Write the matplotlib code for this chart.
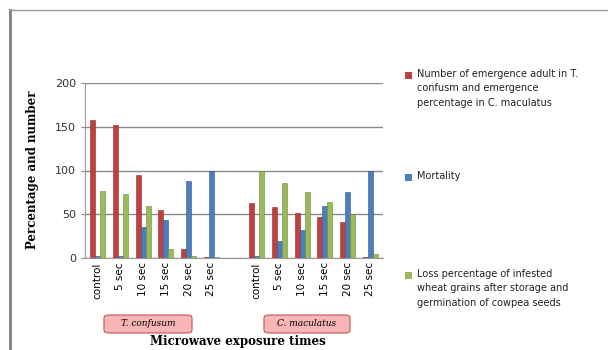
import numpy as np
import matplotlib.pyplot as plt
from matplotlib.patches import FancyBboxPatch, Rectangle

times = ["control", "5 sec", "10 sec", "15 sec", "20 sec", "25 sec"]
groups = ["T. confusum", "C. maculatus"]

# T. confusum
emerg_tc = [158, 152, 95, 55, 10, 1]
mort_tc = [2, 2, 36, 44, 88, 100]
loss_tc = [77, 73, 60, 10, 2, 1]
# C. maculatus
emerg_cm = [63, 58, 52, 47, 41, 1]
mort_cm = [2, 20, 32, 59, 76, 99]
loss_cm = [99, 86, 76, 64, 50, 5]

labels = [
    "Number of emergence adult in T.\nconfusm and emergence\npercentage in C. maculatus",
    "Mortality",
    "Loss percentage of infested\nwheat grains after storage and\ngermination of cowpea seeds",
]
colors = ["#c0403f", "#4a7ebf", "#9aba59"]
edges = ["#8c2b2a", "#2f5a8f", "#6f8a3a"]

fig = plt.figure(figsize=(6.08, 3.5), dpi=100)
W, H = 608, 350
ax = fig.add_axes([85 / W, 1 - 258 / H, 298 / W, 175 / H])

x1 = np.arange(6)
x2 = np.arange(6) + 7
xs = np.concatenate([x1, x2])
series = [emerg_tc + emerg_cm, mort_tc + mort_cm, loss_tc + loss_cm]
bw = 0.22
for i, vals in enumerate(series):
    ax.bar(xs + (i - 1) * bw, vals, width=bw, color=colors[i],
           edgecolor=edges[i], linewidth=0.4, zorder=3)

ax.set_xlim(-0.55, 12.55)
ax.set_ylim(0, 200)
ax.set_yticks([0, 50, 100, 150, 200])
ax.yaxis.grid(True, color="#8a8a8a", linewidth=1.0, zorder=0)
ax.set_xticks(xs)
ax.set_xticklabels(times * 2, rotation=90, fontsize=7.5, family="DejaVu Sans")
ax.tick_params(axis="x", length=0, pad=3)
ax.tick_params(axis="y", labelsize=8, colors="#333333", length=3, color="#888888")
for s in ["top", "right"]:
    ax.spines[s].set_visible(False)
ax.spines["left"].set_color("#999999")
ax.spines["bottom"].set_color("#999999")

fig.text(33 / W, 1 - 170 / H, "Percentage and number", rotation=90,
         ha="center", va="center", fontsize=8.5, fontweight="bold", family="DejaVu Serif")
fig.text(238 / W, 1 - 342 / H, "Microwave exposure times",
         ha="center", va="center", fontsize=8.5, fontweight="bold", family="DejaVu Serif")

# group label boxes
for (xl, xr), name in zip([(104, 192), (264, 350)], groups):
    box = FancyBboxPatch((xl / W, 1 - 333 / H), (xr - xl) / W, 18 / H,
                         boxstyle="round,pad=0,rounding_size=0.008",
                         transform=fig.transFigure, facecolor="#f7b5b5",
                         edgecolor="#d05050", linewidth=0.8)
    fig.patches.append(box)
    fig.text((xl + xr) / 2 / W, 1 - 324 / H, name, ha="center", va="center",
             fontsize=6.5, style="italic", family="DejaVu Serif")

# legend
for ytop, lab, c in zip([75, 177, 275], labels, colors):
    fig.patches.append(Rectangle((405 / W, 1 - (ytop + 4) / H), 7 / W, 7 / H,
                                 transform=fig.transFigure, facecolor=c, edgecolor="none"))
    fig.text(417 / W, 1 - (ytop - 6) / H, lab, ha="left", va="top",
             fontsize=7, linespacing=1.55, color="#222222")

# outer frame lines
fig.add_artist(plt.Line2D([10 / W, 10 / W], [0, 1 - 10 / H], transform=fig.transFigure,
                          color="#7f7f7f", linewidth=2))
fig.add_artist(plt.Line2D([10 / W, 1], [1 - 10 / H, 1 - 10 / H], transform=fig.transFigure,
                          color="#9f9f9f", linewidth=1))

fig.savefig("out.png", dpi=100)
